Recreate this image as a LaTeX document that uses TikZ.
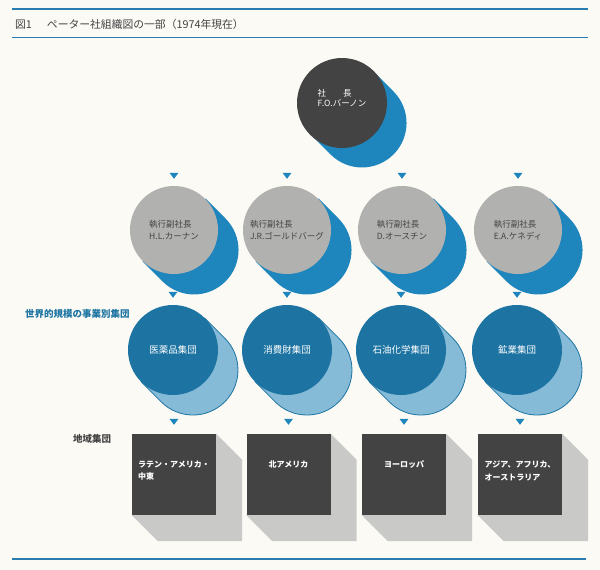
\documentclass[tikz,border=0pt]{standalone}
\usepackage{fontspec}
\setmainfont{Noto Sans CJK JP}
\usepackage{xcolor}
\usepackage{tikz}
\usetikzlibrary{backgrounds,calc}
\definecolor{paper}{HTML}{FCFAF5}
\definecolor{rule}{HTML}{2A7DB0}
\definecolor{blue}{HTML}{1E86BD}
\definecolor{deep}{HTML}{1D74A2}
\definecolor{pale}{HTML}{86BBD7}
\definecolor{ink}{HTML}{434343}
\definecolor{stone}{HTML}{B1B1AF}
\definecolor{ash}{HTML}{C9C9C7}

\begin{document}
\begin{tikzpicture}[
  x=1pt,y=1pt,
  every node/.style={inner sep=0pt,align=left},
  chief/.style={circle,fill=ink,minimum size=90pt},
  chieftext/.style={text=white,font=\fontsize{8.5}{10.5}\selectfont},
  vice/.style={circle,fill=stone,minimum size=88pt,text=ink,font=\fontsize{8.5}{12}\selectfont},
  group/.style={circle,fill=deep,minimum size=90pt,text=white,font=\fontsize{9.5}{12}\selectfont},
  region/.style={rectangle,fill=ink,minimum width=84pt,minimum height=81pt},
  regtext/.style={anchor=north,text=white,font=\bfseries\fontsize{8}{12.5}\selectfont},
  caption/.style={anchor=west,font=\bfseries\fontsize{9.5}{11}\selectfont},
  marker/.style={fill=blue},
  rulebar/.style={draw=rule,line width=1.5pt}
]
\path[use as bounding box] (0,0) rectangle (600,-570);
\draw[rulebar] (12,-9) -- (588,-9);
\draw[rulebar] (12,-37.5) -- (588,-37.5);
\draw[rulebar,line width=2.5pt] (12,-559) -- (586,-559);
\node[anchor=west,text=ink,font=\fontsize{10.8}{12}\selectfont] (title) at (15,-24) {図1\hspace{15pt}ペーター社組織図の一部（1974年現在）};

\node[chief] (pres) at (342,-103) {};
\node[chieftext] (pres-t) at ([yshift=5]pres.center) {社　　長\\F.O.バーノン};

\node[vice] (vp1) at (174,-230) {執行副社長\\H.L.カーナン};
\node[vice] (vp2) at (287,-230) {執行副社長\\J.R.ゴールドバーグ};
\node[vice] (vp3) at (402,-230) {執行副社長\\D.オースチン};
\node[vice] (vp4) at (518,-230) {執行副社長\\E.A.ケネディ};

\node[caption,text=deep] (worldwide) at (25,-314) {世界的規模の事業別集団};
\node[group] (pharma) at (173,-350) {医薬品集団};
\node[group] (consumer) at (287,-350) {消費財集団};
\node[group] (petro) at (401,-350) {石油化学集団};
\node[group] (mining) at (517,-350) {鉱業集団};

\node[caption,text=ink] (area) at (73,-439) {地域集団};
\node[region] (latam) at (174,-474.5) {};
\node[region] (namer) at (288.5,-474.5) {};
\node[region] (europe) at (404,-474.5) {};
\node[region] (asia) at (520,-474.5) {};
\node[regtext] (latam-t) at ([yshift=-27]latam.north) {ラテン・アメリカ・\\中東};
\node[regtext] (namer-t) at ([yshift=-27]namer.north) {北アメリカ};
\node[regtext] (europe-t) at ([yshift=-27]europe.north) {ヨーロッパ};
\node[regtext] (asia-t) at ([yshift=-27]asia.north) {アジア、アフリカ、\\オーストラリア};

\foreach \n in {vp1,vp2,vp3,vp4,pharma,consumer,petro,mining}
  \fill[marker] ([yshift=7]\n.north) -- ++(-4.5,6) -- ++(9,0) -- cycle;
\foreach \n in {latam,namer,europe,asia}
  \fill[marker] ([yshift=9]\n.north) -- ++(-4.5,6) -- ++(9,0) -- cycle;

\begin{scope}[on background layer]
\fill[paper] (0,0) rectangle (600,-570);
\foreach \n in {pres,vp1,vp2,vp3,vp4}
  \fill[blue] ([shift={(31.5,31.5)}]\n.center) -- ([shift={(51.5,11.5)}]\n.center)
    arc[start angle=45,end angle=-135,radius=44.5] -- ([shift={(-31.5,-31.5)}]\n.center) -- cycle;
\foreach \n in {pharma,consumer,petro,mining}
  \filldraw[fill=pale,draw=deep,line width=0.8pt] ([shift={(31.8,31.8)}]\n.center) -- ([shift={(51.8,11.8)}]\n.center)
    arc[start angle=45,end angle=-135,radius=45] -- ([shift={(-31.8,-31.8)}]\n.center) -- cycle;
\foreach \n in {latam,namer,europe,asia}
  \fill[ash] (\n.north east) -- ([shift={(26,-26)}]\n.north east) -- ([shift={(26,-26)}]\n.south east)
    -- ([shift={(26,-26)}]\n.south west) -- (\n.south west) -- cycle;
\end{scope}
\end{tikzpicture}
\end{document}
